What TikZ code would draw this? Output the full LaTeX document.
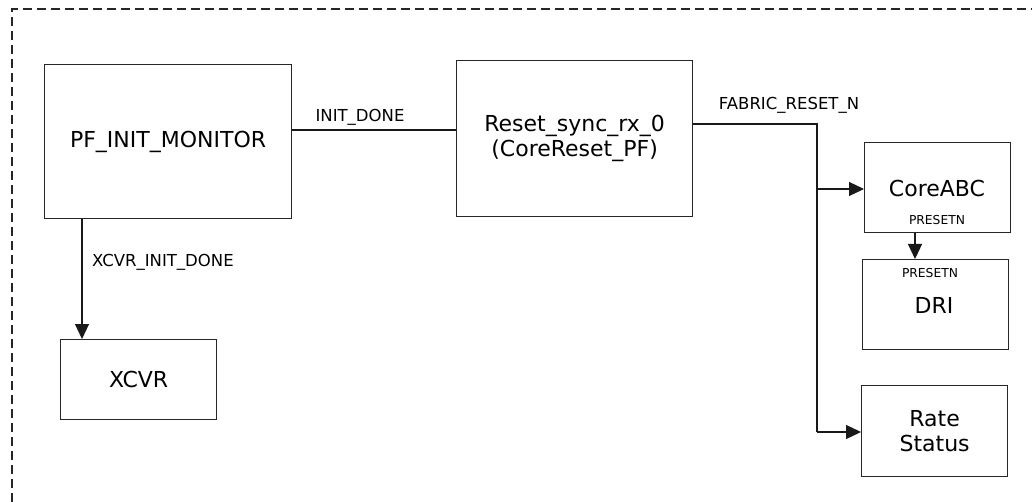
\documentclass[tikz,border=0pt]{standalone}
\usepackage{fontspec}
\setmainfont{DejaVu Sans}
\usetikzlibrary{arrows.meta}

\begin{document}
\begin{tikzpicture}[x=1pt,y=-1pt,
  blockbox/.style={draw=black!85,line width=1.2pt,inner sep=0pt,anchor=north west,
    align=center,font=\fontsize{22}{25}\selectfont},
  sig/.style={line width=1.2pt,draw=black!90},
  sigarrow/.style={sig,-{Triangle[length=15pt,width=14pt]}},
  netlabel/.style={inner sep=0pt,font=\fontsize{16.5}{19}\selectfont},
  pinlabel/.style={inner sep=0pt,font=\fontsize{12.3}{14}\selectfont}]

\useasboundingbox (0,0) rectangle (1032,502);
\fill[white] (0,0) rectangle (1032,502);

% enclosing dashed boundary
\draw[line width=1.2pt,black!85,dash pattern=on 9pt off 5pt] (12,502) -- (12,9) -- (1032,9);

% blocks
\node[blockbox,minimum width=247pt,minimum height=154pt] (pf) at (44,64) {PF\_INIT\_MONITOR};
\node[blockbox,minimum width=236pt,minimum height=156pt] (rst) at (456,60) {Reset\_sync\_rx\_0\\(CoreReset\_PF)};
\node[blockbox,minimum width=146pt,minimum height=90pt] (core) at (864,142) {};
\node[blockbox,minimum width=146pt,minimum height=90pt] (dri) at (862,259) {};
\node[blockbox,minimum width=146pt,minimum height=91pt] (rate) at (861,385) {Rate\\Status};
\node[blockbox,minimum width=156pt,minimum height=80pt] (xcvr) at (60,339) {XCVR};

% block titles and pins
\node[inner sep=0pt,font=\fontsize{22}{25}\selectfont] (coret) at (937,188) {CoreABC};
\node[pinlabel] (corep) at (937,220) {PRESETN};
\node[pinlabel] (drip) at (930,273) {PRESETN};
\node[inner sep=0pt,font=\fontsize{22}{25}\selectfont] (drit) at (934,305) {DRI};

% junction points of the reset net
\coordinate (tA) at (817,124);
\coordinate (tB) at (817,432);

% connections
\draw[sig] (pf.east|-0,130) -- (rst.west|-0,130);
\draw[sigarrow] (pf.south-|82,0) -- (xcvr.north-|82,0);
\draw[sig] (rst.east|-tA) -- (tA) -- (tB);
\draw[sigarrow] (tA|-0,189) -- (core.west|-0,189);
\draw[sigarrow] (tB) -- (rate.west|-tB);
\draw[sigarrow] (core.south-|915,0) -- (dri.north-|915,0);

% net names
\node[netlabel] (l1) at (360,117) {INIT\_DONE};
\node[netlabel] (l2) at (789,105) {FABRIC\_RESET\_N};
\node[netlabel,anchor=west] (l3) at (92,262) {XCVR\_INIT\_DONE};
\end{tikzpicture}
\end{document}
